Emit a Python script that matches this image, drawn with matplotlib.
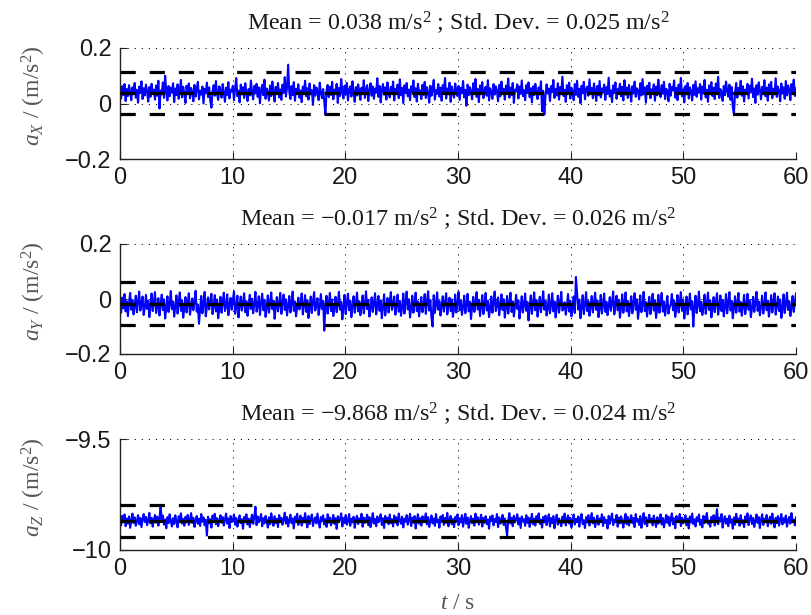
import numpy as np
import matplotlib
matplotlib.use("Agg")
import matplotlib.pyplot as plt

plt.rcParams['mathtext.fontset'] = 'custom'
plt.rcParams['mathtext.rm'] = 'Liberation Serif'
plt.rcParams['mathtext.it'] = 'Liberation Serif:italic'
plt.rcParams['lines.scale_dashes'] = False
plt.rcParams['path.simplify'] = False

# ---------------- data (accelerations in mm/s^2, 0.1 s steps) ----------------
ax_mm = [
    45, 18, 62, 31, 70, 9, 52, 27, 66, 40, 12, 58, 35, 74, 21, 49, 3, 61, 38, 80, 16, 55, 29, 68, 43, 7, 59, 24, 71, 36,
    50, 14, 65, 28, 82, -18, 47, 33, 76, 20, 100, 41, 11, 63, 26, 57, 39, 73, 5, 54, 30, 69, 17, 48, 85, 22, 60, 37, 2, 64,
    34, 72, 19, 56, 42, 8, 67, 25, 51, 78, 15, 46, 32, 61, 0, 53, 37, 75, 23, 58, 10, -15, 44, 66, 28, 81, 35, 13, 62, 47,
    21, 70, 39, 6, 57, 31, 77, 18, 50, 43, 64, 12, 55, 92, 26, 46, 4, 68, 33, 59, 20, 73, 38, 9, 52, 29, 83, 41, 15, 63,
    36, 71, 24, 58, 1, 49, 67, 30, 86, 17, 54, 40, 11, 65, 27, 79, 44, 7, 60, 34, 74, 22, 51, 13, 68, 38, 95, 25, 57, 140,
    42, 16, 63, 30, 77, 10, 53, 35, 69, 21, 47, 5, 61, 39, 82, 26, 55, 14, 72, 33, 48, -5, 66, 28, 58, 43, 12, 75, 37, 19,
    52, 8, -40, 45, 67, 23, 60, 31, 78, 15, 50, 36, 71, 2, 56, 27, 88, 40, 18, 64, 33, 74, 11, 49, 62, 25, 80, 38, 6, 59,
    29, 69, 44, 13, 57, 35, 84, 20, 51, 66, 9, 46, 73, 28, 61, 17, 54, 39, 91, 24, 63, 4, 48, 70, 32, 58, 14, 76, 41, 22,
    60, 34, 79, 11, 53, 45, 68, 19, 87, 30, 56, 1, 65, 37, 74, 26, 50, 12, 62, 42, 83, 23, 55, 7, 71, 36, 47, 16, 67, 31,
    78, 20, 59, 40, 3, 64, 28, 52, 85, 14, 48, 35, 70, 25, 57, 10, 66, 44, 92, 18, 54, 33, 75, 6, 61, 39, 21, 72, 46, 27,
    63, 13, 56, 37, 81, 22, 49, -8, 68, 30, 59, 42, 15, 73, 34, 88, 24, 52, 5, 65, 38, 77, 19, 47, 60, 28, 84, 11, 55, 41,
    17, 70, 32, 62, 45, 8, 67, 26, 79, 36, 53, 14, 64, 40, 90, 21, 57, 31, 74, 2, 50, 44, 69, 18, 61, 35, 83, 27, 48, 12,
    66, 38, 76, 23, 55, 4, 62, 30, 71, 42, 16, 58, 33, 80, -28, 46, -40, 25, 69, 36, 54, 9, 63, 41, 85, 20, 52, 29, 73, 14,
    59, 34, 97, 27, 49, 6, 66, 39, 75, 18, 57, 43, 12, 70, 31, 82, 24, 53, 1, 64, 37, 78, 15, 50, 61, 28, 87, 35, 56, 19,
    72, 44, 9, 63, 30, 81, 22, 54, 40, 68, 13, 59, 34, 93, 25, 47, 5, 65, 38, 76, 17, 52, 45, 71, 26, 60, 11, 84, 32, 57,
    20, 67, 41, 7, 62, 36, 79, 24, 55, 46, 15, 73, 29, 88, 33, 58, 3, 64, 40, 75, 19, 51, 37, 69, 10, 61, 30, 86, 44, 23,
    66, 35, 78, 16, 53, 42, 8, 71, 28, 60, 47, 83, 21, 56, 12, 68, 38, 92, 26, 50, 4, 63, 33, 74, 18, 58, 45, 11, 67, 31,
    80, 24, 55, 39, 70, 14, 61, 36, 85, 22, 49, 6, 65, 43, 77, 27, 57, 16, 72, 34, 96, 20, 52, 41, 9, 63, 30, 79, 46, 25,
    68, 13, 59, -12, -38, 37, 74, 21, 56, 44, 82, 28, 62, 7, 50, 35, 71, 18, 64, 40, 89, 23, 54, 2, 66, 32, 76, 47, 15, 60,
    38, 84, 26, 57, 10, 69, 42, 78, 19, 53, 33, 91, 24, 61, 45, 8, 72, 36, 58, 17, 81, 29, 65, 48, 12, 70, 39, 86, 27, 55,
]

ay_mm = [
    -22, -50, 5, -34, 18, -45, -8, -62, -15, 22, -39, -3, -56, -26, 12, -48, -11, 27, -42, -19, 9, -58, -30, 15, -36, -6, -66, -24, 20, -44,
    -13, 25, -51, -28, 3, -60, -17, 16, -40, -1, -71, -32, 10, -47, -21, 29, -37, -9, -64, -25, 13, -53, -14, 24, -43, -4, -68, -31, 7, -49,
    -18, 21, -57, -27, 2, -41, -10, 30, -46, -20, -90, -35, 11, -52, -16, 26, -63, -29, 6, -38, -7, 19, -55, -23, 14, -45, -2, -70, -33, 8,
    -50, -12, 23, -44, -26, 17, -59, -19, 4, -39, -5, 28, -54, -30, 12, -67, -22, 9, -42, -14, 21, -48, -8, -61, -28, 15, -36, 1, -52, -18,
    26, -46, -24, 10, -58, -13, 19, -41, -3, -65, -31, 13, -50, -17, 24, -37, -6, -72, -27, 7, -45, -20, 22, -54, -11, 16, -40, -1, -60, -25,
    11, -49, -15, 27, -43, -9, -63, -30, 5, -38, -18, 20, -56, -23, 14, -47, -4, -69, -34, 9, -51, -12, 25, -42, -21, 3, -58, -28, 18, -36,
    -7, -115, -26, 12, -53, -16, 22, -44, -2, -62, -31, 8, -48, -19, 26, -39, -10, -74, -29, 15, -55, -14, 19, -41, -6, -66, -24, 10, -50, -17,
    23, -45, -8, -59, -27, 13, -52, -20, 28, -37, -3, -64, -32, 6, -47, -15, 21, -56, -22, 11, -43, -5, -70, -30, 17, -60, -25, 4, -49, -12,
    25, -40, -18, 9, -57, -24, 16, -46, -7, -61, -29, 20, -53, -13, 27, -38, -1, -67, -33, 12, -50, -16, 23, -44, -9, -63, -26, 7, -48, -20,
    18, -54, -11, 28, -42, -4, -69, -100, 14, -51, -19, 24, -39, -8, -60, -27, 10, -46, -14, 21, -56, -23, 5, -44, -2, -65, -35, 16, -49, -17,
    26, -41, -6, -58, -28, 12, -52, -21, 19, -45, -10, -73, -30, 8, -47, -15, 25, -38, -3, -62, -26, 14, -55, -18, 22, -42, -7, -66, -32, 9,
    -50, -13, 27, -44, -20, 6, -59, -24, 17, -40, -1, -68, -29, 11, -53, -16, 23, -47, -9, -63, -27, 15, -36, -5, -71, -33, 10, -49, -22, 20,
    -43, -11, -78, -30, 13, -54, -19, 24, -41, -4, -64, -26, 8, -48, -15, 28, -39, -7, -60, -34, 16, -52, -21, 21, -45, -9, -67, -28, 12, -50,
    -17, 26, -42, -35, -12, -57, -25, 18, -46, -6, -63, -31, 9, -51, 80, 22, -38, -2, -70, -29, 14, -55, -20, 25, -44, -8, -61, -27, 11, -49,
    -16, 23, -40, -5, -66, -32, 15, -53, -22, 20, -47, -10, -59, -26, 7, -43, -13, 27, -56, -19, 12, -41, -3, -68, -30, 17, -50, -18, 24, -45,
    -7, -62, -28, 10, -52, -15, 21, -39, -1, -72, -33, 13, -48, -21, 26, -44, -11, -64, -25, 8, -55, -17, 19, -42, -4, -69, -31, 15, -50, -14,
    22, -46, -9, -60, -27, 11, -53, -29, -20, 18, -41, -6, -65, -30, 14, -49, -16, 25, -43, -2, -71, -34, 9, -56, -23, 20, -38, -8, -100, -26,
    12, -51, -18, 27, -45, -10, -58, -29, 16, -54, -21, 23, -40, -5, -67, -32, 7, -48, -14, 21, -57, -24, 13, -44, -3, -63, -28, 18, -52, -15,
    25, -42, -7, -70, -31, 10, -50, -19, 22, -46, -11, -61, -26, 15, -55, -22, 19, -39, -4, -66, -33, 8, -47, -13, 26, -43, -9, -59, -27, 12,
    -53, -20, 24, -41, -6, -64, -30, 14, -49, -16, 21, -57, -25, 9, -44, -2, -69, -34, 17, -51, -18, 23, -40, -8, -62, -29, 11, -47, -12, 20,
]

az_mm = [
    -9862, -9889, -9846, -9875, -9840, -9893, -9858, -9881, -9849, -9900, -9866, -9836, -9878, -9853, -9891, -9870, -9843, -9884, -9856, -9897, -9861, -9838, -9874, -9851, -9888, -9867, -9833, -9880, -9855, -9895,
    -9864, -9842, -9877, -9850, -9890, -9859, -9800, -9873, -9845, -9886, -9863, -9902, -9852, -9879, -9839, -9869, -9894, -9857, -9883, -9844, -9872, -9898, -9848, -9866, -9835, -9881, -9860, -9891, -9851, -9876,
    -9842, -9887, -9865, -9834, -9878, -9855, -9896, -9868, -9847, -9882, -9859, -9892, -9838, -9873, -9853, -9889, -9864, -9935, -9850, -9880, -9861, -9899, -9845, -9871, -9837, -9884, -9857, -9893, -9868, -9843,
    -9877, -9852, -9890, -9863, -9836, -9881, -9858, -9901, -9847, -9874, -9866, -9840, -9886, -9856, -9895, -9869, -9844, -9879, -9861, -9904, -9851, -9872, -9839, -9885, -9859, -9897, -9864, -9841, -9882, -9854,
    -9805, -9888, -9849, -9875, -9862, -9838, -9893, -9857, -9880, -9846, -9870, -9899, -9853, -9884, -9835, -9867, -9891, -9848, -9878, -9860, -9897, -9843, -9873, -9855, -9886, -9864, -9832, -9881, -9852, -9894,
    -9866, -9841, -9879, -9858, -9903, -9850, -9872, -9837, -9887, -9862, -9845, -9890, -9856, -9876, -9834, -9868, -9898, -9847, -9883, -9860, -9840, -9892, -9865, -9853, -9880, -9836, -9874, -9899, -9851, -9871,
    -9844, -9885, -9861, -9896, -9839, -9877, -9854, -9889, -9867, -9842, -9882, -9857, -9905, -9848, -9873, -9862, -9835, -9894, -9856, -9879, -9843, -9886, -9869, -9838, -9891, -9859, -9876, -9850, -9900, -9865,
    -9846, -9883, -9858, -9872, -9837, -9895, -9854, -9878, -9863, -9841, -9888, -9852, -9897, -9870, -9834, -9881, -9860, -9893, -9849, -9875, -9865, -9839, -9887, -9857, -9901, -9846, -9871, -9855, -9884, -9840,
    -9879, -9862, -9894, -9845, -9876, -9853, -9889, -9836, -9868, -9882, -9850, -9898, -9859, -9873, -9843, -9886, -9864, -9837, -9892, -9855, -9877, -9847, -9903, -9866, -9839, -9881, -9857, -9890, -9848, -9874,
    -9861, -9835, -9885, -9852, -9896, -9869, -9844, -9880, -9858, -9891, -9838, -9875, -9863, -9899, -9849, -9871, -9842, -9887, -9856, -9878, -9833, -9893, -9865, -9846, -9884, -9860, -9897, -9851, -9872, -9840,
    -9888, -9857, -9876, -9843, -9895, -9863, -9837, -9882, -9854, -9900, -9869, -9847, -9879, -9859, -9890, -9836, -9873, -9852, -9886, -9865, -9841, -9894, -9856, -9877, -9848, -9883, -9862, -9904, -9850, -9870,
    -9844, -9889, -9860, -9874, -9838, -9897, -9853, -9881, -9866, -9842, -9887, -9858, -9898, -9935, -9868, -9834, -9880, -9855, -9893, -9846, -9876, -9864, -9839, -9885, -9857, -9901, -9849, -9872, -9861, -9891,
    -9843, -9878, -9854, -9896, -9867, -9837, -9884, -9859, -9890, -9848, -9873, -9835, -9882, -9863, -9899, -9851, -9875, -9845, -9888, -9862, -9839, -9894, -9856, -9879, -9847, -9902, -9866, -9841, -9886, -9858,
    -9871, -9893, -9850, -9877, -9836, -9889, -9864, -9844, -9881, -9855, -9898, -9868, -9840, -9885, -9860, -9874, -9849, -9895, -9857, -9838, -9883, -9866, -9901, -9852, -9876, -9843, -9890, -9862, -9834, -9880,
    -9855, -9897, -9869, -9845, -9886, -9859, -9873, -9839, -9892, -9852, -9878, -9865, -9903, -9846, -9882, -9857, -9836, -9888, -9863, -9875, -9842, -9895, -9854, -9880, -9848, -9870, -9899, -9860, -9837, -9884,
    -9851, -9890, -9866, -9843, -9879, -9856, -9897, -9838, -9872, -9861, -9887, -9847, -9900, -9868, -9834, -9883, -9853, -9893, -9864, -9841, -9876, -9858, -9889, -9845, -9871, -9896, -9852, -9881, -9863, -9839,
    -9885, -9856, -9898, -9869, -9842, -9878, -9850, -9891, -9861, -9835, -9884, -9857, -9902, -9847, -9873, -9865, -9838, -9892, -9854, -9880, -9867, -9844, -9889, -9859, -9903, -9849, -9876, -9836, -9883, -9862,
    -9894, -9852, -9871, -9840, -9887, -9864, -9898, -9846, -9879, -9857, -9833, -9882, -9868, -9895, -9851, -9875, -9843, -9890, -9861, -9816, -9884, -9855, -9872, -9838, -9899, -9866, -9848, -9881, -9859, -9893,
    -9845, -9877, -9862, -9904, -9853, -9886, -9837, -9870, -9858, -9891, -9843, -9880, -9866, -9897, -9849, -9874, -9835, -9888, -9860, -9844, -9883, -9856, -9896, -9868, -9840, -9878, -9852, -9901, -9864, -9839,
    -9887, -9859, -9874, -9842, -9893, -9866, -9850, -9882, -9836, -9870, -9898, -9855, -9879, -9847, -9890, -9862, -9838, -9885, -9857, -9876, -9845, -9895, -9867, -9851, -9881, -9834, -9872, -9863, -9889, -9853,
]

means = [0.038, -0.017, -9.868]
stds = [0.025, 0.026, 0.024]
mean_labels = ['0.038', '\u22120.017', '\u22129.868']
std_labels = ['0.025', '0.026', '0.024']
axis_names = ['X', 'Y', 'Z']
ylims = [(-0.2, 0.2), (-0.2, 0.2), (-10.0, -9.5)]
yticks = [[-0.2, 0, 0.2], [-0.2, 0, 0.2], [-10.0, -9.5]]
yticklabels = [['\u22120.2', '0', '0.2'], ['\u22120.2', '0', '0.2'], ['\u221210', '\u22129.5']]
xticks = [0, 10, 20, 30, 40, 50, 60]
t_end = 60.0

series = [np.array(ax_mm) / 1000.0, np.array(ay_mm) / 1000.0, np.array(az_mm) / 1000.0]

# ---------------- figure ----------------
W, H = 812, 615
fig = plt.figure(figsize=(W / 100, H / 100), dpi=100)

left_px, right_px = 120, 796
axes_px = [(48, 159), (244, 354), (439, 550)]

label_color = '#555555'
text_color = '#1a1a1a'

for i, (top, bot) in enumerate(axes_px):
    ax = fig.add_axes([left_px / W, 1 - bot / H, (right_px - left_px) / W, (bot - top) / H])
    y = series[i]
    t = np.linspace(0, t_end, len(y))
    ax.plot(t, y, color=(0, 0, 1), lw=1.5, zorder=2)
    m, s = means[i], stds[i]
    for lev in (m + 3 * s, m, m - 3 * s):
        ax.axhline(lev, color='k', lw=2.3, dashes=(11, 10), zorder=3)

    ax.set_xlim(0, 60)
    ax.set_ylim(*ylims[i])
    ax.set_xticks(xticks)
    ax.set_xticklabels([str(v) for v in xticks])
    ax.set_yticks(yticks[i])
    ax.set_yticklabels(yticklabels[i])
    ax.grid(True, color='k', lw=0.7, dashes=(0.8, 4.3))
    ax.set_axisbelow(True)
    for sp in ('top', 'right'):
        ax.spines[sp].set_visible(False)
    for sp in ('left', 'bottom'):
        ax.spines[sp].set_linewidth(1.0)
        ax.spines[sp].set_color('#222222')
    ax.tick_params(direction='in', length=5, width=0.8, labelsize=17,
                   colors='#222222', labelcolor=text_color, pad=6)
    for lab in ax.get_xticklabels() + ax.get_yticklabels():
        lab.set_fontfamily('Liberation Sans')

    ax.set_title('Mean = %s m/s$^2$ ; Std. Dev. = %s m/s$^2$' % (mean_labels[i], std_labels[i]),
                 fontfamily='Liberation Serif', fontsize=17.3, color=text_color, pad=13)
    ax.set_ylabel(r'$a_{%s}$ / (m/s$^2$)' % axis_names[i], fontfamily='Liberation Serif',
                  fontsize=17, color=label_color)
    ax.yaxis.set_label_coords(-0.106, 0.57)
    if i == 2:
        ax.set_xlabel(r'$t$ / s', fontfamily='Liberation Serif', fontsize=17,
                      color=label_color, labelpad=9)

fig.savefig('out.png', dpi=100, facecolor='white')
